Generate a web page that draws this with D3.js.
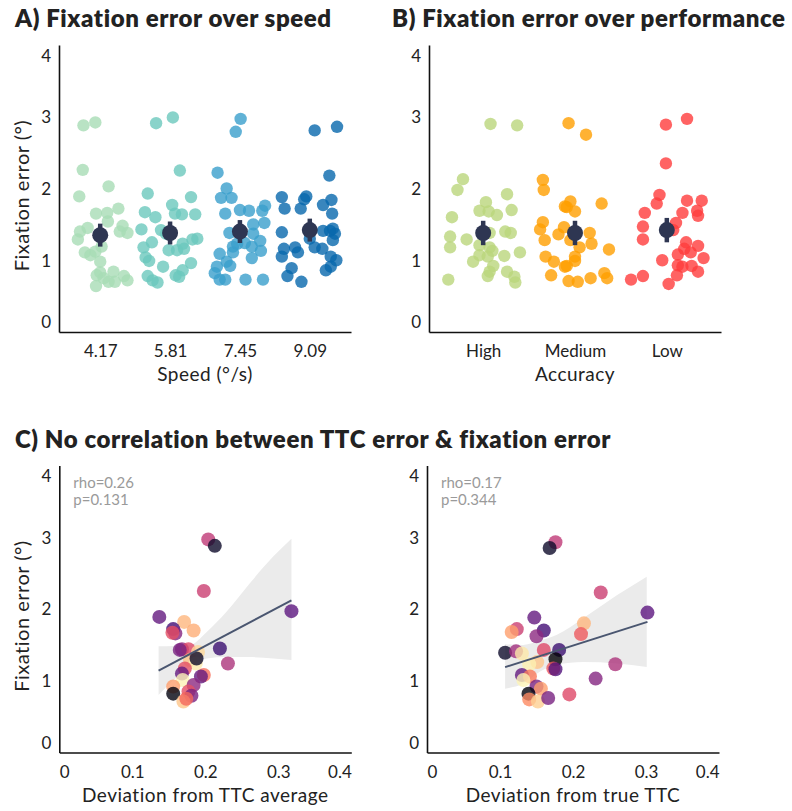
<!DOCTYPE html>
<html>
<head>
<meta charset="utf-8">
<script src="https://cdn.jsdelivr.net/npm/d3@7"></script>
<style>
  body { margin: 0; background: #fff; }
  text { font-family: Lato, "Noto Sans", sans-serif; }
</style>
</head>
<body>
<div id="chart"></div>
<script>
// ---- data ----
const speedLevels = ["4.17", "5.81", "7.45", "9.09"];
const speedJitter = [
  [-0.24,-0.07,-0.25,0.12,-0.30,-0.06,0.10,0.26,0.11,-0.29,-0.32,-0.18,-0.22,-0.14,-0.07,0,0.32,0.39,0.28,0.02,0,-0.05,0.19,0.12,0.21,0.34,0.39,-0.06,0.05],
  [-0.20,0.04,0.14,-0.32,0.30,0.03,-0.36,-0.21,0.07,0.17,0.36,-0.41,-0.13,-0.26,-0.38,-0.35,-0.30,0.18,-0.02,0.10,0.20,0.32,0.39,-0.10,0.30,0.18,0.08,0.13,-0.32,-0.25,-0.18,-0.06],
  [0.01,-0.06,-0.32,-0.19,-0.27,-0.12,0.36,0.32,0,0.13,-0.21,0.35,0.19,-0.15,0.19,0.29,-0.10,0.07,0.17,0.30,-0.29,-0.10,0.17,-0.19,-0.14,-0.33,-0.36,-0.29,-0.21,0.08,0.33,-0.04],
  [0.07,0.39,0.28,-0.40,-0.05,-0.08,0.31,-0.36,-0.13,0.19,0.32,-0.40,0.19,0.29,0.36,0,-0.37,-0.21,-0.17,0.07,0.18,0.33,-0.40,0.30,0.38,0.30,-0.26,-0.32,0.23,-0.12,0.33]
];
const speedFix = [
  [2.88,2.92,2.26,2.03,1.89,1.65,1.66,1.72,1.54,1.40,1.29,1.45,1.11,1.07,1.12,0.98,1.48,1.38,1.40,1.19,0.83,0.79,0.84,0.70,0.70,0.78,0.72,0.64,0.75],
  [2.91,2.99,2.25,1.93,1.88,1.77,1.67,1.60,1.65,1.64,1.64,1.43,1.42,1.25,1.18,1.04,0.99,1.23,1.14,1.14,1.16,1.29,1.30,0.91,0.96,0.86,0.79,0.77,0.78,0.72,0.69,1.37],
  [2.97,2.79,2.22,2.00,1.87,1.87,1.76,1.69,1.70,1.69,1.65,1.52,1.50,1.38,1.37,1.27,1.19,1.24,1.19,1.13,1.09,1.11,1.03,0.98,0.92,0.91,0.82,0.73,0.73,0.73,0.73,1.23],
  [2.81,2.86,2.18,1.88,1.89,1.85,1.84,1.72,1.72,1.77,1.65,1.39,1.41,1.41,1.37,1.30,1.16,1.18,1.11,1.18,1.16,1.28,1.05,1.05,1.00,0.91,0.89,0.78,0.86,0.70,1.44]
];
const speedMean = [1.35, 1.38, 1.40, 1.42];
const speedSem = [0.16, 0.16, 0.16, 0.16];
const speedColors = ["#a8dcb5", "#6cc8bd", "#3a9fcc", "#0868ac"];

const accLevels = ["High", "Medium", "Low"];
const accJitter = [
  [0.08,0.37,-0.22,-0.28,0.26,-0.34,0.03,-0.04,0.06,0.15,0.31,-0.36,-0.36,-0.18,0.07,0.24,0.30,-0.04,0.07,0.10,0.40,-0.11,-0.04,0.05,0.23,0.11,0.07,0.05,0.26,0.34,0.35,-0.38],
  [-0.07,0.12,-0.35,-0.34,0.29,-0.05,-0.09,0,-0.35,-0.38,-0.12,-0.18,0.16,-0.33,-0.05,0.05,0.18,0.37,-0.32,-0.23,0,0,-0.11,-0.09,-0.26,-0.07,0.03,0.17,0.32,0.35,-0.11],
  [-0.01,0.22,-0.01,-0.08,-0.11,-0.24,0.22,0.38,0.17,0.33,0.34,-0.26,-0.26,0.10,0.07,0.21,0.34,0.19,0.12,0.26,-0.05,0.40,0.12,0.17,0.27,0.11,0.34,0.02,-0.39,-0.26]
];
const accFix = [
  [2.90,2.88,2.13,1.98,1.92,1.60,1.81,1.69,1.68,1.63,1.70,1.33,1.18,1.29,1.38,1.40,1.38,1.21,1.18,1.13,1.11,0.98,1.07,1.05,1.06,0.92,0.84,0.78,0.84,0.77,0.69,0.73],
  [2.91,2.75,2.12,1.98,1.79,1.82,1.74,1.68,1.53,1.43,1.46,1.36,1.38,1.28,1.28,1.18,1.23,1.15,1.05,0.98,1.05,0.99,0.91,0.92,0.79,0.71,0.70,0.75,0.82,0.75,1.75],
  [2.89,2.97,2.35,1.91,1.79,1.66,1.83,1.83,1.66,1.69,1.62,1.47,1.29,1.52,1.42,1.25,1.20,1.16,1.08,1.11,1.00,1.03,0.93,0.91,0.92,0.79,0.84,0.67,0.73,0.78]
];
const accMean = [1.38, 1.38, 1.42];
const accSem = [0.17, 0.17, 0.17];
const accColors = ["#bad67c", "#ff9f00", "#ff3c3c"];

// TTC error vs fixation error (one point per participant, colour = magma position)
const avgDev = [0.204,0.213,0.198,0.137,0.318,0.171,0.184,0.156,0.159,0.155,0.168,0.177,0.190,0.220,0.231,0.179,0.187,0.188,0.172,0.168,0.198,0.194,0.169,0.184,0.156,0.156,0.177,0.181,0.170,0.174,0.165];
const avgFix = [2.97,2.88,2.25,1.89,1.97,1.82,1.70,1.72,1.66,1.67,1.44,1.44,1.40,1.45,1.24,1.29,1.24,1.31,1.17,1.10,1.08,1.06,1.01,0.94,0.92,0.82,0.85,0.79,0.71,0.75,1.43];
const avgTone = [0.52,0.08,0.55,0.30,0.28,0.85,0.83,0.22,0.38,0.62,0.42,0.60,0.92,0.20,0.48,0.88,0.96,0.08,0.62,0.30,0.70,0.30,0.98,0.40,0.80,0.03,0.62,0.35,0.88,0.68,0.35];
const avgFitX = [0.136, 0.318];
const avgFitY = [1.14, 2.12];
const avgBandX = [0.136,0.179,0.202,0.229,0.261,0.293,0.318];
const avgBandLo = [0.80,1.19,1.31,1.33,1.33,1.31,1.29];
const avgBandHi = [1.48,1.50,1.68,1.96,2.36,2.73,2.98];

const trueDev = [0.176,0.168,0.238,0.302,0.147,0.160,0.150,0.123,0.116,0.215,0.211,0.107,0.122,0.130,0.160,0.181,0.176,0.151,0.140,0.173,0.176,0.258,0.231,0.130,0.141,0.132,0.150,0.156,0.139,0.140,0.152,0.166,0.195];
const trueFix = [2.93,2.85,2.23,1.95,1.88,1.70,1.62,1.72,1.68,1.80,1.65,1.39,1.41,1.38,1.43,1.43,1.30,1.26,1.23,1.17,1.16,1.23,1.03,1.08,1.06,1.01,0.92,0.89,0.82,0.74,0.71,0.76,0.81];
const trueTone = [0.52,0.08,0.55,0.28,0.30,0.22,0.40,0.55,0.80,0.85,0.65,0.08,0.45,0.95,0.60,0.20,0.00,0.88,0.97,0.65,0.25,0.48,0.38,0.30,0.72,0.98,0.35,0.80,0.02,0.75,0.90,0.35,0.60];
const trueFitX = [0.107, 0.302];
const trueFitY = [1.19, 1.82];
const trueBandX = [0.107,0.132,0.155,0.178,0.214,0.260,0.301];
const trueBandLo = [0.89,0.96,1.13,1.22,1.26,1.24,1.19];
const trueBandHi = [1.51,1.50,1.56,1.64,1.87,2.19,2.45];

const yTicks = [0, 1, 2, 3, 4];
const devTicks = [0, 0.1, 0.2, 0.3, 0.4];

// ---- drawing ----
const svg = d3.select("#chart").append("svg")
  .attr("width", 792).attr("height", 811)
  .style("background", "#fff");

const dark = "#2e3652";

// axes helper: left + bottom spines, no tick marks, first/last labels tucked inside
function drawAxes(g, x, y, xTicks, xFormat, ylabel, xlabel) {
  const ya = g.append("g")
    .attr("transform", "translate(" + x.range()[0] + ",0)")
    .call(d3.axisLeft(y).tickValues(yTicks).tickFormat(d3.format("d")).tickSize(0).tickPadding(8).tickSizeOuter(0));
  ya.selectAll("text").style("font-size", "17px").attr("fill", "#222")
    .attr("dy", function(d) { return d === 0 ? "-0.25em" : (d === 4 ? "0.95em" : "0.35em"); });

  const xa = g.append("g")
    .attr("transform", "translate(0," + y.range()[0] + ")")
    .call(d3.axisBottom(x).tickValues(xTicks).tickFormat(xFormat).tickSize(0).tickPadding(13).tickSizeOuter(0));
  xa.selectAll("text").style("font-size", "17px").attr("fill", "#222");

  [ya, xa].forEach(function(a) {
    a.select(".domain").attr("stroke", "#111").attr("stroke-width", 1.6);
  });

  if (ylabel) {
    g.append("text")
      .attr("transform", "translate(" + (x.range()[0] - 30) + "," + (d3.mean(y.range()) + 7) + ") rotate(-90)")
      .attr("text-anchor", "middle")
      .style("font-size", "20px").style("letter-spacing", "0.5px").attr("fill", "#222")
      .text(ylabel);
  }
  g.append("text")
    .attr("x", d3.mean(x.range()))
    .attr("y", y.range()[0] + 49)
    .attr("text-anchor", "middle")
    .style("font-size", "19px").style("letter-spacing", "0.5px").attr("fill", "#222")
    .text(xlabel);
  return xa;
}

function stripPanel(left, levels, jitter, fix, mean, sem, colors, xlabel, ylabel) {
  const g = svg.append("g");
  const n = levels.length;
  const x = d3.scaleLinear().domain([-0.59, n - 1 + 0.59]).range([left, left + 292]);
  const y = d3.scaleLinear().domain([0, 4]).range([332, 45]);

  drawAxes(g, x, y, d3.range(n), function(i) { return levels[i]; }, ylabel, xlabel);

  levels.forEach(function(lv, i) {
    const pts = fix[i].map(function(v, k) { return { x: i + jitter[i][k], y: v }; });
    g.append("g").selectAll("circle")
      .data(pts).enter().append("circle")
      .attr("cx", function(d) { return x(d.x); })
      .attr("cy", function(d) { return y(d.y); })
      .attr("r", 6.2)
      .attr("fill", colors[i])
      .attr("fill-opacity", 0.8);
  });

  // mean +/- sem
  const m = g.append("g");
  m.selectAll("line").data(mean).enter().append("line")
    .attr("x1", function(d, i) { return x(i); })
    .attr("x2", function(d, i) { return x(i); })
    .attr("y1", function(d, i) { return y(d - sem[i]); })
    .attr("y2", function(d, i) { return y(d + sem[i]); })
    .attr("stroke", dark).attr("stroke-width", 4.5);
  m.selectAll("circle").data(mean).enter().append("circle")
    .attr("cx", function(d, i) { return x(i); })
    .attr("cy", function(d) { return y(d); })
    .attr("r", 8)
    .attr("fill", dark);
}

function corrPanel(left, right, dev, fix, tone, fitX, fitY, bandX, bandLo, bandHi, stats, xlabel, ylabel) {
  const g = svg.append("g");
  const x = d3.scaleLinear().domain([0, 0.4]).range([left, right]);
  const y = d3.scaleLinear().domain([0, 4]).range([752.5, 465.5]);

  const xa = drawAxes(g, x, y, devTicks, function(d) { return d === 0 ? "0" : d3.format(".1f")(d); }, ylabel, xlabel);
  xa.selectAll(".tick text").attr("text-anchor", function(d) {
    return d === 0 ? "start" : (d === 0.4 ? "end" : "middle");
  });

  const band = bandX.map(function(v, i) { return { x: v, lo: bandLo[i], hi: bandHi[i] }; });
  g.append("path").datum(band)
    .attr("fill", "#ebebeb")
    .attr("d", d3.area().curve(d3.curveMonotoneX)
      .x(function(d) { return x(d.x); })
      .y0(function(d) { return y(d.lo); })
      .y1(function(d) { return y(d.hi); }));

  const pts = dev.map(function(v, i) { return { x: v, y: fix[i], t: tone[i] }; });
  g.append("g").selectAll("circle")
    .data(pts).enter().append("circle")
    .attr("cx", function(d) { return x(d.x); })
    .attr("cy", function(d) { return y(d.y); })
    .attr("r", 7)
    .attr("fill", function(d) { return d3.interpolateMagma(d.t); })
    .attr("fill-opacity", 0.8);

  g.append("line")
    .attr("x1", x(fitX[0])).attr("y1", y(fitY[0]))
    .attr("x2", x(fitX[1])).attr("y2", y(fitY[1]))
    .attr("stroke", "#4a5670").attr("stroke-width", 2);

  stats.forEach(function(s, i) {
    g.append("text")
      .attr("x", left + 14)
      .attr("y", 488 + i * 17)
      .style("font-size", "15px")
      .attr("fill", "#9a9a9a")
      .text(s);
  });
}

stripPanel(59, speedLevels, speedJitter, speedFix, speedMean, speedSem, speedColors, "Speed (°/s)", "Fixation error  (°)");
stripPanel(429, accLevels, accJitter, accFix, accMean, accSem, accColors, "Accuracy", null);
corrPanel(59.3, 351.3, avgDev, avgFix, avgTone, avgFitX, avgFitY, avgBandX, avgBandLo, avgBandHi,
  ["rho=0.26", "p=0.131"], "Deviation from TTC average", "Fixation error  (°)");
corrPanel(427, 719, trueDev, trueFix, trueTone, trueFitX, trueFitY, trueBandX, trueBandLo, trueBandHi,
  ["rho=0.17", "p=0.344"], "Deviation from true TTC", null);

// titles
const titles = [
  { t: "A) Fixation error over speed", x: 15, y: 27 },
  { t: "B) Fixation error over performance", x: 392, y: 27 },
  { t: "C) No correlation between TTC error & fixation error", x: 15, y: 448 }
];
svg.selectAll("text.title").data(titles).enter().append("text")
  .attr("class", "title")
  .attr("x", function(d) { return d.x; })
  .attr("y", function(d) { return d.y; })
  .style("font-size", "24px")
  .style("font-weight", "800")
  .style("letter-spacing", "0.6px")
  .attr("fill", "#222")
  .text(function(d) { return d.t; });
</script>
</body>
</html>
